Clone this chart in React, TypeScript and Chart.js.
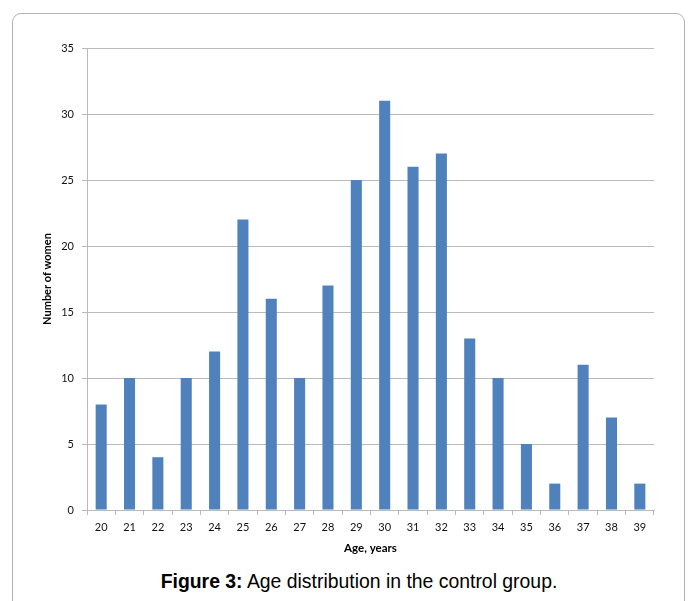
import React, { useEffect, useRef } from "react";
import { Chart, registerables } from "chart.js";

Chart.register(...registerables);

const ages = ["20","21","22","23","24","25","26","27","28","29","30","31","32","33","34","35","36","37","38","39"];
const women = [8, 10, 4, 10, 12, 22, 16, 10, 17, 25, 31, 26, 27, 13, 10, 5, 2, 11, 7, 2];
const yTitle = "Number of women";
const xTitle = "Age, years";

export default function App() {
  const ref = useRef<HTMLCanvasElement | null>(null);

  useEffect(() => {
    if (!ref.current) return;
    const gridColor = "#bababa";
    const chart = new Chart(ref.current, {
      type: "bar",
      data: {
        labels: ages,
        datasets: [
          {
            data: women,
            backgroundColor: "#4f81bd",
            borderWidth: 0,
            categoryPercentage: 1,
            barPercentage: 0.39,
          },
        ],
      },
      options: {
        animation: false,
        responsive: false,
        maintainAspectRatio: false,
        layout: { padding: { left: 0, right: 26, top: 28, bottom: 0 } },
        plugins: { legend: { display: false }, tooltip: { enabled: false } },
        scales: {
          y: {
            min: 0,
            max: 35,
            ticks: {
              stepSize: 5,
              padding: 8,
              color: "#111",
              font: { family: "Lato, 'Open Sans', sans-serif", size: 11 },
            },
            grid: { color: gridColor, lineWidth: 1, tickLength: 5, drawTicks: true },
            border: { color: gridColor, width: 1 },
            title: {
              display: true,
              text: yTitle,
              color: "#000",
              font: { family: "Lato, 'Open Sans', sans-serif", size: 11, weight: "bold" },
              padding: { top: 21, bottom: 0 },
            },
            afterFit: (s: any) => {
              s.width = 67;
            },
          },
          x: {
            ticks: {
              padding: 6,
              color: "#111",
              font: { family: "Lato, 'Open Sans', sans-serif", size: 11 },
            },
            grid: { display: true, drawOnChartArea: false, drawTicks: true, tickLength: 5, color: gridColor, offset: true },
            border: { color: gridColor, width: 1 },
            title: {
              display: true,
              text: xTitle,
              color: "#000",
              font: { family: "Lato, 'Open Sans', sans-serif", size: 11.5, weight: "bold" },
              padding: { top: 0, bottom: 10 },
            },
            afterFit: (s: any) => {
              s.height = 55;
            },
          },
        },
      },
    });
    return () => chart.destroy();
  }, []);

  return (
    <div
      style={{
        position: "fixed",
        left: 0,
        top: 0,
        width: 695,
        height: 601,
        overflow: "hidden",
        background: "#fff",
      }}
    >
      <div
        style={{
          position: "absolute",
          left: 12,
          top: 13,
          width: 673,
          height: 640,
          border: "1.5px solid #b3b3b3",
          borderRadius: 9,
          boxSizing: "border-box",
        }}
      />
      <canvas
        ref={ref}
        width={660}
        height={545}
        style={{ position: "absolute", left: 20, top: 20, width: 660, height: 545 }}
      />
      <div
        style={{
          position: "absolute",
          left: 0,
          width: 718,
          top: 570,
          textAlign: "center",
          fontFamily: "'Liberation Sans', Arial, sans-serif",
          fontSize: 19.4,
          color: "#000",
          whiteSpace: "nowrap",
          lineHeight: "22px",
        }}
      >
        <b>Figure 3:</b> Age distribution in the control group.
      </div>
    </div>
  );
}
